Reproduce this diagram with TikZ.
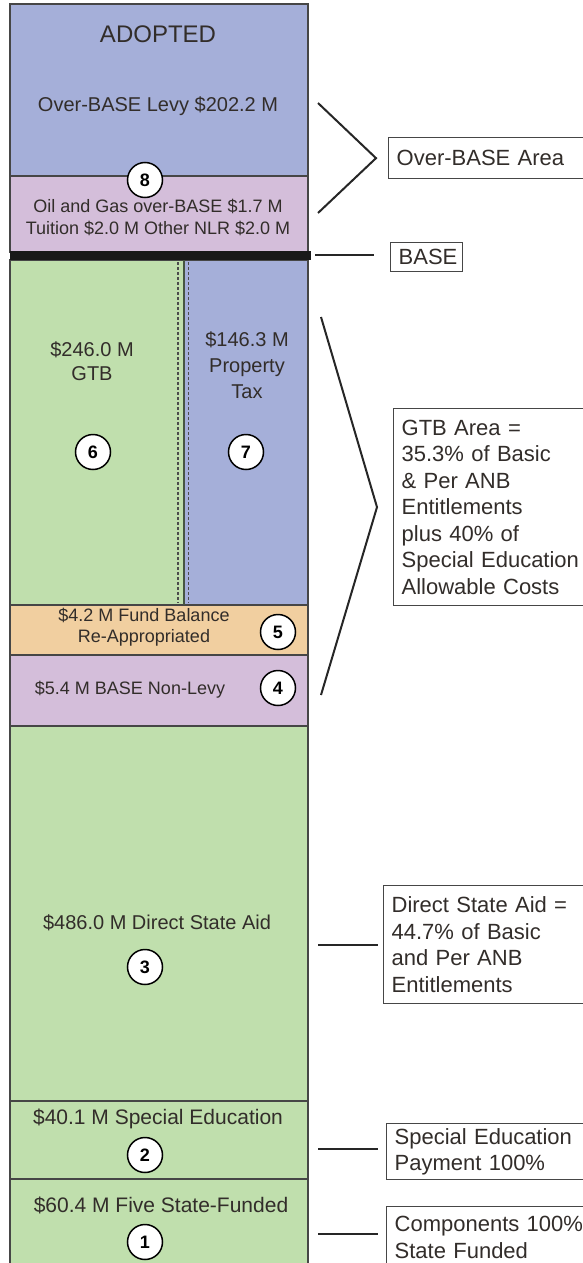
\documentclass[tikz,border=0pt]{standalone}
\usepackage{fontspec}
\setmainfont{Liberation Sans}
\usetikzlibrary{positioning}

\definecolor{levyblue}{RGB}{165,175,217}
\definecolor{nlrpink}{RGB}{212,190,218}
\definecolor{stategreen}{RGB}{192,223,173}
\definecolor{fundorange}{RGB}{241,207,160}
\definecolor{inkgray}{RGB}{50,45,42}
\definecolor{edgegray}{RGB}{70,70,70}
\definecolor{splitgray}{RGB}{70,85,65}

\tikzset{
  amount/.style={text=inkgray, align=center, inner sep=0pt, font=\fontsize{20}{24}\selectfont},
  small amount/.style={amount, font=\fontsize{18}{22}\selectfont},
  badge/.style={circle, draw=black, line width=1.5pt, fill=white, minimum size=35pt, inner sep=0pt, text=black, font=\fontsize{18}{18}\selectfont\bfseries},
  note/.style={draw=edgegray, line width=1.3pt, fill=white, anchor=north west, align=left, text width=200pt, inner xsep=8pt, inner ysep=0pt, text=inkgray, font=\fontsize{22}{26.5}\selectfont},
  bracket/.style={line width=2pt, black!85},
  tick/.style={line width=2.6pt, black!85},
  band/.style={draw=edgegray, line width=1.3pt},
}

\begin{document}
\begin{tikzpicture}[x=1pt,y=-1pt]
\useasboundingbox (0,0) rectangle (583,1263);
\clip (0,0) rectangle (583,1263);
% column bands
\filldraw[band, fill=levyblue] (10,4) rectangle (308,176);
\filldraw[band, fill=nlrpink] (10,176) rectangle (308,252);
\filldraw[band, fill=stategreen] (10,260) rectangle (184,605);
\filldraw[band, fill=levyblue] (184,260) rectangle (308,605);
\filldraw[band, fill=fundorange] (10,605) rectangle (308,655);
\filldraw[band, fill=nlrpink] (10,655) rectangle (308,726);
\filldraw[band, fill=stategreen] (10,726) rectangle (308,1101);
\filldraw[band, fill=stategreen] (10,1101) rectangle (308,1179);
\filldraw[band, fill=stategreen] (10,1179) rectangle (308,1275);
\fill[black!90] (10,251) rectangle (311,260);
% GTB / property tax split
\draw[line width=1.2pt, dash pattern=on 3pt off 2pt, black!70] (178,262) -- (178,603);
\draw[line width=1.2pt, dash pattern=on 3pt off 2pt, black!70] (188.5,262) -- (188.5,603);
\draw[line width=2pt, splitgray] (184,260) -- (184,605);

% labels in the column
\node[amount, font=\fontsize{24}{24}\selectfont] (adopted) at (158,34) {ADOPTED};
\node[amount] (levy) at (158,106) {Over-BASE Levy \$202.2 M};
\node[badge] (b8) at (145,180) {8};
\node[small amount] (nlr) at (158,217) {Oil and Gas over-BASE \$1.7 M\\Tuition \$2.0 M Other NLR \$2.0 M};
\node[amount] (gtb) at (92,361) {\$246.0 M\\GTB};
\node[amount, font=\fontsize{20}{26}\selectfont] (ptax) at (247,365) {\$146.3 M\\Property\\Tax};
\node[badge] (b6) at (93,452) {6};
\node[badge] (b7) at (246,452) {7};
\node[small amount, font=\fontsize{18}{21}\selectfont] (fund) at (144,627) {\$4.2 M Fund Balance\\Re-Appropriated};
\node[badge] (b5) at (278,632) {5};
\node[small amount] (nonlevy) at (130,690) {\$5.4 M BASE Non-Levy};
\node[badge] (b4) at (278,688) {4};
\node[amount] (dsa) at (157,923) {\$486.0 M Direct State Aid};
\node[badge] (b3) at (145,967) {3};
\node[amount, font=\fontsize{21}{24}\selectfont] (sped) at (158,1119) {\$40.1 M Special Education};
\node[badge] (b2) at (145,1155) {2};
\node[amount, font=\fontsize{21}{24}\selectfont] (five) at (161,1205) {\$60.4 M Five State-Funded};
\node[badge] (b1) at (145,1242) {1};

% notes on the right
\node[note, minimum height=41pt] (obarea) at (388,137) {Over-BASE Area};
\node[note, text width=56pt, minimum height=29pt] (basebox) at (390,242) {BASE};
\node[note, minimum height=197pt] (gtbarea) at (393,408) {GTB Area =\\35.3\% of Basic\\\& Per ANB\\Entitlements\\plus 40\% of\\Special Education\\Allowable Costs};
\node[note, minimum height=118pt] (dsaarea) at (383,885) {Direct State Aid =\\44.7\% of Basic\\and Per ANB\\Entitlements};
\node[note, minimum height=56pt] (spedarea) at (386,1123) {Special Education\\Payment 100\%};
\node[note, minimum height=62pt] (comparea) at (386,1206) {Components 100\%\\State Funded};

% brackets and ticks
\coordinate (ob-top) at (318,103);
\coordinate (ob-bot) at (318,213);
\coordinate[left=12pt of obarea] (ob-tip);
\draw[bracket] (ob-top) -- (ob-tip) -- (ob-bot);
\coordinate (base-end) at (315,255);
\draw[tick] (base-end) -- ([xshift=-16pt]base-end -| basebox.west);
\coordinate (gtb-top) at (321,317);
\coordinate (gtb-bot) at (321,695);
\coordinate[left=16pt of gtbarea] (gtb-tip);
\draw[bracket] (gtb-top) -- (gtb-tip) -- (gtb-bot);
\coordinate (dsa-end) at (318,945);
\draw[tick] (dsa-end) -- ([xshift=-5pt]dsa-end -| dsaarea.west);
\coordinate (sped-end) at (318,1149);
\draw[tick] (sped-end) -- ([xshift=-8pt]sped-end -| spedarea.west);
\coordinate (comp-end) at (318,1234);
\draw[tick] (comp-end) -- ([xshift=-8pt]comp-end -| comparea.west);
\end{tikzpicture}
\end{document}
